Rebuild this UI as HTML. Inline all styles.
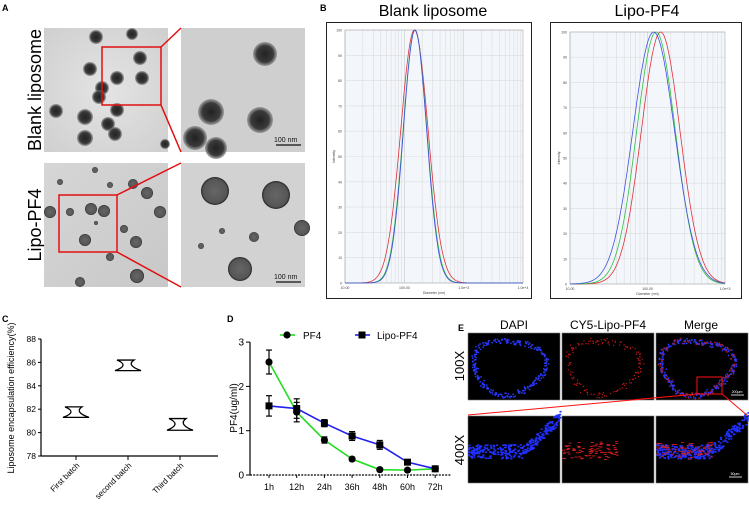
<!DOCTYPE html>
<html><head><meta charset="utf-8"><style>
html,body{margin:0;padding:0;background:#fff;}
svg{display:block;font-family:"Liberation Sans",Arial,sans-serif;}
</style></head><body>
<svg id="fig" width="749" height="506" viewBox="0 0 749 506" xmlns="http://www.w3.org/2000/svg">
<defs>
<radialGradient id="tem1" cx="50%" cy="50%" r="70%"><stop offset="0" stop-color="#e4e4e4"/><stop offset="1" stop-color="#cfcfcf"/></radialGradient>
<linearGradient id="tem2" x1="0" y1="0" x2="1" y2="1"><stop offset="0" stop-color="#d6d6d6"/><stop offset="1" stop-color="#c8c8c8"/></linearGradient>
<radialGradient id="dark" cx="50%" cy="50%" r="50%"><stop offset="0" stop-color="#222"/><stop offset="0.7" stop-color="#3a3a3a"/><stop offset="1" stop-color="#777" stop-opacity="0.6"/></radialGradient>
<radialGradient id="spot" cx="50%" cy="50%" r="50%"><stop offset="0" stop-color="#666"/><stop offset="0.85" stop-color="#555"/><stop offset="1" stop-color="#222"/></radialGradient>
</defs>
<!-- Panel A -->
<g id="panelA">
<text x="2" y="11" font-size="9" font-weight="bold">A</text>
<text transform="translate(41,90) rotate(-90)" text-anchor="middle" font-size="18">Blank liposome</text>
<text transform="translate(41,225) rotate(-90)" text-anchor="middle" font-size="18">Lipo-PF4</text>
<rect x="44" y="28" width="124" height="124" fill="url(#tem1)"/>
<rect x="181" y="28" width="124" height="124" fill="#cfcfcf"/>
<rect x="44" y="163" width="124" height="124" fill="url(#tem2)"/>
<rect x="181" y="163" width="124" height="124" fill="#d2d2d2"/>
<g id="temDots"></g>
<rect x="102" y="47" width="59" height="58" fill="none" stroke="#e01010" stroke-width="1.5"/>
<line x1="161" y1="47" x2="181" y2="28" stroke="#e01010" stroke-width="1.5"/>
<line x1="161" y1="105" x2="181" y2="152" stroke="#e01010" stroke-width="1.5"/>
<rect x="59" y="195" width="58" height="57" fill="none" stroke="#e01010" stroke-width="1.5"/>
<line x1="117" y1="195" x2="181" y2="163" stroke="#e01010" stroke-width="1.5"/>
<line x1="117" y1="252" x2="181" y2="287" stroke="#e01010" stroke-width="1.5"/>
<line x1="276" y1="145" x2="301" y2="145" stroke="#111" stroke-width="1.2"/>
<text x="274" y="142" font-size="7" fill="#111">100 nm</text>
<line x1="276" y1="282" x2="301" y2="282" stroke="#111" stroke-width="1.2"/>
<text x="274" y="279" font-size="7" fill="#111">100 nm</text>
</g>
<!-- Panel B -->
<g id="panelB">
<text x="320" y="11" font-size="9" font-weight="bold">B</text>
<text x="433" y="16" text-anchor="middle" font-size="16">Blank liposome</text>
<text x="647" y="16" text-anchor="middle" font-size="16">Lipo-PF4</text>
<rect x="326.5" y="22.5" width="205" height="276" fill="#fff" stroke="#222" stroke-width="1"/>
<rect x="550.5" y="22.5" width="191" height="276" fill="#fff" stroke="#222" stroke-width="1"/>
<g id="dls"></g>
</g>
<!-- Panel C -->
<g id="panelC">
<text x="2" y="322" font-size="9" font-weight="bold">C</text>
<text transform="translate(14,398) rotate(-90)" text-anchor="middle" font-size="9">Liposome encapsulation efficiency(%)</text>
<g id="chartC"></g>
</g>
<!-- Panel D -->
<g id="panelD">
<text x="227" y="322" font-size="9" font-weight="bold">D</text>
<text transform="translate(237,408) rotate(-90)" text-anchor="middle" font-size="10">PF4(ug/ml)</text>
<g id="chartD"></g>
</g>
<!-- Panel E -->
<g id="panelE">
<text x="458" y="331" font-size="9" font-weight="bold">E</text>
<text x="514" y="329" text-anchor="middle" font-size="12">DAPI</text>
<text x="608" y="329" text-anchor="middle" font-size="12">CY5-Lipo-PF4</text>
<text x="701" y="329" text-anchor="middle" font-size="12">Merge</text>
<text transform="translate(464,366) rotate(-90)" text-anchor="middle" font-size="13">100X</text>
<text transform="translate(464,450) rotate(-90)" text-anchor="middle" font-size="13">400X</text>
<g id="fluor"></g>
</g>
</svg>
<script>
// ---- Panel C data ----
const cCategories = ["First batch","second batch","Third batch"];
const cMin = [81.3, 85.3, 80.2];
const cMax = [82.2, 86.2, 81.2];
const cTicks = [78,80,82,84,86,88];
// ---- Panel D data ----
const dTimes = ["1h","12h","24h","36h","48h","60h","72h"];
const dPF4 = [2.55,1.42,0.79,0.36,0.12,0.11,0.14];
const dPF4Err = [0.27,0.22,0.07,0.04,0.03,0.03,0.03];
const dLipo = [1.56,1.50,1.17,0.88,0.68,0.29,0.14];
const dLipoErr = [0.23,0.22,0.08,0.1,0.1,0.05,0.03];
const dTicks = [0,1,2,3];
// ---- Panel B data (log10 peak diameter, log-width) ----
const bBlankPeaks = [2.17,2.18,2.18];
const bBlankWidths = [0.23,0.2,0.195];
const bLipoPeaks = [2.17,2.11,2.08];
const bLipoWidths = [0.25,0.25,0.27];
const bColors = ["#e0303a","#30c040","#4050e0"];
const bYTicks = [0,10,20,30,40,50,60,70,80,90,100];

const NS="http://www.w3.org/2000/svg";
function mk(tag,attrs,parent,txt){const e=document.createElementNS(NS,tag);for(const k in attrs)e.setAttribute(k,attrs[k]);if(txt!==undefined)e.textContent=txt;parent.appendChild(e);return e;}

// TEM dots (image texture)
(function(){
 const g=document.getElementById('temDots');
 const a=[[96,37,7,1],[132,34,6,1],[140,58,7,1],[90,69,7,1],[117,78,7,1],[142,78,7,1],[102,88,7,1],[99,97,7,1],[56,111,7,1],[85,117,8,1],[108,124,7,1],[117,110,7,1],[115,134,7,1],[85,138,8,1],[165,144,5,1],
 [265,54,12,1],[211,112,13,1],[260,120,13,1],[195,138,12,1],[216,148,11,1]];
 a.forEach(d=>{const c=mk('circle',{cx:d[0],cy:d[1],r:d[2],fill:'url(#dark)'},g);
 
 });
 const b=[[95,170,3],[133,184,5],[147,193,6],[110,185,3],[50,212,6],[70,212,4],[91,209,6],[104,211,6],[85,240,6],[160,212,6],[136,242,6],[124,229,4],[110,257,4],[137,276,7],[80,282,5],[60,182,3],[96,223,2],
 [215,191,14],[276,195,14],[302,228,8],[254,237,5],[240,269,12],[201,246,3],[222,231,3]];
 b.forEach(d=>{const c=mk('circle',{cx:d[0],cy:d[1],r:d[2],fill:'url(#spot)'},g);
 
 });
})();

// Panel B DLS
(function(){
 const g=document.getElementById('dls');
 const plots=[{x0:345,x1:523,dec0:1,dec1:4,y0:283,y1:30,left:340,right:526,peaks:bBlankPeaks,widths:bBlankWidths,labels:["10.00","100.00","1.0e+3","1.0e+4"]},
              {x0:570,x1:725,dec0:1,dec1:3,y0:284,y1:32,left:569,right:730,peaks:bLipoPeaks,widths:bLipoWidths,labels:["10.00","100.00","1.0e+3"]}];
 plots.forEach((p,pi)=>{
  const sx=l=>p.x0+(l-p.dec0)/(p.dec1-p.dec0)*(p.x1-p.x0);
  const sy=v=>p.y0+(p.y1-p.y0)*v/100;
  mk('rect',{x:p.x0,y:p.y1,width:p.x1-p.x0,height:p.y0-p.y1,fill:'#f3f7fc'},g);
  for(let d=p.dec0;d<p.dec1;d++)for(let m=1;m<10;m++){const x=sx(d+Math.log10(m));
   mk('line',{x1:x,x2:x,y1:p.y1,y2:p.y0,stroke:m==1?'#c8c8c8':'#dcdcdc','stroke-width':0.6},g);}
  bYTicks.forEach(t=>{mk('line',{x1:p.x0,x2:p.x1,y1:sy(t),y2:sy(t),stroke:'#dcdcdc','stroke-width':0.6},g);
   mk('text',{x:p.x0-3,y:sy(t)+1.5,'font-size':3.5,'text-anchor':'end',fill:'#444'},g,String(t));});
  p.labels.forEach((l,i)=>mk('text',{x:sx(p.dec0+i),y:p.y0+6,'font-size':3.5,'text-anchor':'middle',fill:'#444'},g,l));
  mk('text',{x:(p.x0+p.x1)/2,y:p.y0+11,'font-size':3.5,'text-anchor':'middle',fill:'#444'},g,'Diameter (nm)');
  mk('text',{transform:`translate(${p.x0-10},${(p.y0+p.y1)/2}) rotate(-90)`,'font-size':3.5,'text-anchor':'middle',fill:'#444'},g,'Intensity');
  mk('rect',{x:p.x0,y:p.y1,width:p.x1-p.x0,height:p.y0-p.y1,fill:'none',stroke:'#999','stroke-width':0.5},g);
  p.peaks.forEach((pk,i)=>{let d='';
   for(let k=0;k<=200;k++){const l=p.dec0+(p.dec1-p.dec0)*k/200;const v=100*Math.exp(-0.5*Math.pow((l-pk)/p.widths[i],2));
    d+=(k?'L':'M')+sx(l).toFixed(1)+','+sy(v).toFixed(1);}
   const c=mk('path',{d:d,fill:'none',stroke:bColors[i],'stroke-width':0.8},g);
   
   });
 });
})();

// Panel C
(function(){
 const g=document.getElementById('chartC');
 const X0=41,X1=218,Y0=456,Y1=339;
 const sy=v=>Y0-(v-78)/(88-78)*(Y0-Y1);
 const sx=i=>76+i*52;
 mk('line',{x1:X0,x2:X0,y1:Y1,y2:Y0,stroke:'#000','stroke-width':1.2},g);
 mk('line',{x1:X0,x2:X1,y1:Y0,y2:Y0,stroke:'#000','stroke-width':1.2},g);
 cTicks.forEach(t=>{mk('line',{x1:X0-3,x2:X0,y1:sy(t),y2:sy(t),stroke:'#000','stroke-width':1},g);
  mk('text',{x:X0-5,y:sy(t)+3,'font-size':8.5,'text-anchor':'end'},g,String(t));});
 cCategories.forEach((c,i)=>{const x=sx(i);
  mk('line',{x1:x,x2:x,y1:Y0,y2:Y0+4,stroke:'#000','stroke-width':1},g);
  mk('text',{transform:`translate(${x+4},${Y0+10}) rotate(-45)`,'font-size':8,'text-anchor':'end'},g,c);
  const lo=sy(cMin[i]),hi=sy(cMax[i]),mid=(lo+hi)/2;
  const v=mk('path',{d:`M${x-11},${hi} L${x+6},${hi} Q${x-2},${mid} ${x+13},${lo} L${x-13},${lo} Q${x+2},${mid} ${x-11},${hi} Z`,fill:'#fff',stroke:'#000','stroke-width':1.3},g);
  
  
 });
})();

// Panel D
(function(){
 const g=document.getElementById('chartD');
 const X0=250,Y0=475;
 const sy=v=>Y0-v*44.3;
 const sx=i=>269+i*27.7;
 mk('line',{x1:X0,x2:X0,y1:sy(3),y2:Y0,stroke:'#000','stroke-width':1.2},g);
 mk('line',{x1:X0,x2:451,y1:Y0,y2:Y0,stroke:'#000','stroke-width':1.2,'stroke-dasharray':'2,1.2'},g);
 dTicks.forEach(t=>{mk('line',{x1:X0-4,x2:X0,y1:sy(t),y2:sy(t),stroke:'#000','stroke-width':1},g);
  mk('text',{x:X0-6,y:sy(t)+3.5,'font-size':10,'text-anchor':'end'},g,String(t));});
 dTimes.forEach((t,i)=>{mk('line',{x1:sx(i),x2:sx(i),y1:Y0,y2:Y0+3,stroke:'#000'},g);
  mk('text',{x:sx(i),y:Y0+15,'font-size':9,'text-anchor':'middle'},g,t);});
 function series(vals,errs,color,sq,name){
  mk('polyline',{points:vals.map((v,i)=>sx(i)+','+sy(v)).join(' '),fill:'none',stroke:color,'stroke-width':1.6},g);
  vals.forEach((v,i)=>{const x=sx(i),y=sy(v),e=errs[i]*44.3;
   mk('line',{x1:x,x2:x,y1:y-e,y2:y+e,stroke:'#000','stroke-width':1.2},g);
   mk('line',{x1:x-3,x2:x+3,y1:y-e,y2:y-e,stroke:'#000','stroke-width':1.2},g);
   mk('line',{x1:x-3,x2:x+3,y1:y+e,y2:y+e,stroke:'#000','stroke-width':1.2},g);
   const m=sq?mk('rect',{x:x-3.5,y:y-3.5,width:7,height:7,fill:'#000'},g):mk('circle',{cx:x,cy:y,r:3.6,fill:'#000'},g);
   
   });
 }
 series(dPF4,dPF4Err,'#22dd22',false,'pf4');
 series(dLipo,dLipoErr,'#2222ee',true,'lipo-pf4');
 const lg=mk('g',{},g);
 mk('line',{x1:280,x2:295,y1:335,y2:335,stroke:'#22dd22','stroke-width':1.6},lg);
 mk('circle',{cx:287,cy:335,r:3.6,fill:'#000'},lg);
 mk('text',{x:303,y:339,'font-size':10},lg,'PF4');
 mk('line',{x1:355,x2:370,y1:335,y2:335,stroke:'#2222ee','stroke-width':1.6},lg);
 mk('rect',{x:358.5,y:331.5,width:7,height:7,fill:'#000'},lg);
 mk('text',{x:377,y:339,'font-size':10},lg,'Lipo-PF4');
})();

// Panel E fluorescence images
(function(){
 const g=document.getElementById('fluor');
 const cols=[468,562,656],w=92,rows=[333,416],h=67;
 const names=['dapi','cy5','merge'];
 rows.forEach((ry,r)=>cols.forEach((cx,c)=>{const e=mk('rect',{x:cx,y:ry,width:w,height:h,fill:'#000',stroke:'#777','stroke-width':0.6},g);
  
  }));
 let seed=7;const rnd=()=>{seed=(seed*16807)%2147483647;return seed/2147483647;};
 cols.forEach((cx,c)=>{
  // ring
  for(let k=0;k<260;k++){const t=k/260*2*Math.PI;const rr=1+0.08*Math.cos(3*t+1);
   const x=cx+40+36*rr*Math.cos(t)+(rnd()-0.5)*5, y=366+27*rr*Math.sin(t)+(rnd()-0.5)*5;
   if(c!==1) mk('rect',{x:x,y:y,width:1.5,height:1.5,fill:'#2838ff'},g);
   if(c!==0 && rnd()<0.6) mk('rect',{x:x+(rnd()-0.5)*3,y:y+(rnd()-0.5)*3,width:1.2,height:1.2,fill:'#c01818'},g);}
  // 400x band
  for(let k=0;k<320;k++){const f=rnd();let x,y;
   if(f<0.6){x=cx+f/0.6*55;y=451+(rnd()-0.5)*14;}else{const q=(f-0.6)/0.4;x=cx+55+q*37;y=451-q*35+(rnd()-0.5)*12;}
   if(c!==1) mk('rect',{x:x,y:y,width:2,height:1.6,fill:'#2030ff'},g);
   if(c!==0 && f<0.6 && rnd()<0.5) mk('rect',{x:x,y:y-4+rnd()*6,width:3,height:0.9,fill:'#d02020'},g);}
 });
 mk('rect',{x:697,y:377,width:25,height:17,fill:'none',stroke:'#ff1010','stroke-width':1},g);
 mk('line',{x1:697,y1:394,x2:468,y2:415,stroke:'#ff1010','stroke-width':1},g);
 mk('line',{x1:722,y1:394,x2:748,y2:416,stroke:'#ff1010','stroke-width':1},g);
 mk('line',{x1:731,y1:395,x2:744,y2:395,stroke:'#fff','stroke-width':0.8},g);
 mk('text',{x:737,y:393,'font-size':3.5,fill:'#fff','text-anchor':'middle'},g,'200μm');
 mk('line',{x1:729,y1:477,x2:742,y2:477,stroke:'#fff','stroke-width':0.8},g);
 mk('text',{x:735,y:475,'font-size':3.5,fill:'#fff','text-anchor':'middle'},g,'50μm');
})();
</script>
</body></html>
